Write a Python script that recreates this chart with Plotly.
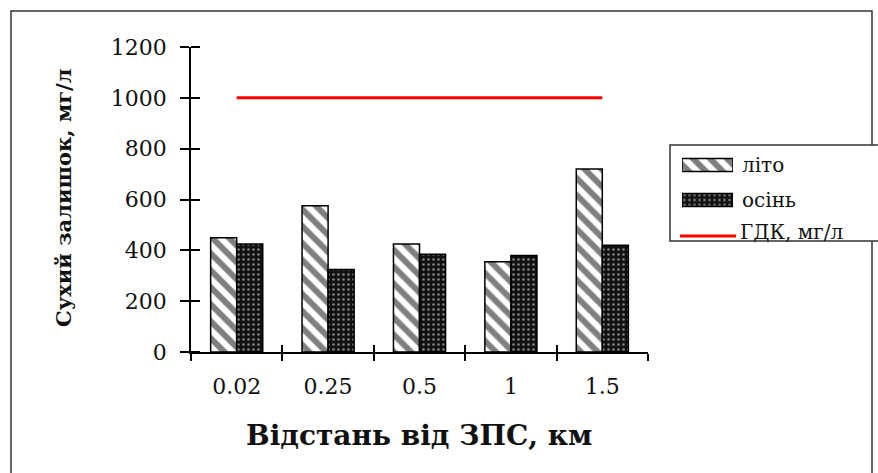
import plotly.graph_objects as go

# Distance from the source (km) and dry residue (mg/l)
distances = ["0.02", "0.25", "0.5", "1", "1.5"]
summer = [450, 575, 425, 355, 720]
autumn = [425, 325, 385, 380, 420]
mpc_value = 1000
y_ticks = [0, 200, 400, 600, 800, 1000, 1200]

FONT = "DejaVu Serif"
INK = "#111111"

# Plot area and paper geometry (pixels)
W, H = 878, 473
ML, MR, MT, MB = 191, 0, 47, 121
PW, PH = W - ML - MR, H - MT - MB


def px(x):
    return (x - ML) / PW


def py(y):
    return (H - MB - y) / PH


main_right = px(648)

summer_marker = dict(color="white", line=dict(color="black", width=1.5),
                     pattern=dict(shape="\\", fgcolor="black", bgcolor="white",
                                  size=12, solidity=0.5))
autumn_marker = dict(color="black", line=dict(color="black", width=1.5),
                     pattern=dict(shape=".", fgcolor="#f0f0f0", bgcolor="#111111",
                                  size=5, solidity=0.22))

fig = go.Figure()

fig.add_trace(go.Bar(x=distances, y=summer, name="літо",
                     marker=summer_marker, showlegend=False))
fig.add_trace(go.Bar(x=distances, y=autumn, name="осінь",
                     marker=autumn_marker, showlegend=False))
# limit line lives on overlay axes that also carry the inner tick marks
fig.add_trace(go.Scatter(
    x=distances, y=[mpc_value] * len(distances), name="ГДК, мг/л",
    mode="lines", line=dict(color="#ff0000", width=3),
    xaxis="x2", yaxis="y2", showlegend=False,
))

# Legend swatches drawn as small patterned bars in an inset axis
legend_cats = ["осінь", "літо"]
fig.add_trace(go.Bar(y=["літо"], x=[1], orientation="h", width=0.37,
                     marker=summer_marker, xaxis="x3", yaxis="y3",
                     showlegend=False, hoverinfo="skip"))
fig.add_trace(go.Bar(y=["осінь"], x=[1], orientation="h", width=0.37,
                     marker=autumn_marker, xaxis="x3", yaxis="y3",
                     showlegend=False, hoverinfo="skip"))

tick_font = dict(family=FONT, size=22, color=INK)

fig.update_layout(
    width=W, height=H,
    margin=dict(l=ML, r=MR, t=MT, b=MB),
    paper_bgcolor="white", plot_bgcolor="white",
    barmode="group", bargap=0.43, bargroupgap=0,
    xaxis=dict(
        domain=[0, main_right], type="category", categoryorder="array",
        categoryarray=distances, range=[-0.5, 4.5],
        tickson="boundaries", ticks="outside", ticklen=7, tickwidth=1.5,
        tickcolor="black", showline=True, linecolor="black", linewidth=1.5,
        showgrid=False, zeroline=False, tickfont=tick_font,
        ticklabelstandoff=14,
    ),
    xaxis2=dict(
        overlaying="x", anchor="y2", type="category",
        categoryorder="array", categoryarray=distances, range=[-0.5, 4.5],
        tickson="boundaries", ticks="inside", ticklen=7, tickwidth=1.5,
        tickcolor="black", showticklabels=False,
    ),
    yaxis=dict(
        range=[0, 1200], tickvals=y_ticks, ticks="outside", ticklen=9,
        tickwidth=1.5, tickcolor="black", showline=True, linecolor="black",
        linewidth=1.5, showgrid=False, zeroline=False, tickfont=tick_font,
        ticklabelstandoff=9,
        minor=dict(ticks="inside", tickvals=[0.01, 1199.99], ticklen=9,
                   tickwidth=1.5, tickcolor="black"),
    ),
    yaxis2=dict(
        range=[0, 1200], overlaying="y", anchor="x2", side="left",
        tickvals=y_ticks, ticks="inside", ticklen=9, tickwidth=1.5,
        tickcolor="black", showticklabels=False,
    ),
    xaxis3=dict(domain=[px(682), px(733)], range=[0, 1], visible=False,
                anchor="y3", fixedrange=True),
    yaxis3=dict(domain=[py(217.5), py(147.5)], type="category",
                categoryorder="array", categoryarray=legend_cats,
                range=[-0.5, 1.5], visible=False, anchor="x3",
                fixedrange=True),
    shapes=[
        # outer frame
        dict(type="rect", xref="paper", yref="paper",
             x0=px(11), x1=px(872), y0=py(490), y1=py(11),
             line=dict(color="#333333", width=1.5), layer="below"),
        # legend box
        dict(type="rect", xref="paper", yref="paper",
             x0=px(670), x1=px(885), y0=py(241), y1=py(145),
             line=dict(color="#333333", width=1.5), fillcolor="white",
             layer="below"),
        # legend line sample
        dict(type="line", xref="paper", yref="paper",
             x0=px(680), x1=px(736), y0=py(236), y1=py(236),
             line=dict(color="#ff0000", width=3)),
    ],
    annotations=[
        dict(text="<b>Відстань від ЗПС, км</b>", xref="paper", yref="paper",
             x=px(419), y=py(435), xanchor="center", yanchor="middle",
             showarrow=False, font=dict(family=FONT, size=28, color=INK)),
        dict(text="<b>Сухий залишок, мг/л</b>", xref="paper", yref="paper",
             x=px(64), y=py(198), xanchor="center", yanchor="middle",
             showarrow=False, textangle=-90,
             font=dict(family=FONT, size=21, color=INK)),
        dict(text="літо", xref="paper", yref="paper", x=px(740), y=py(165),
             xanchor="left", yanchor="middle", showarrow=False,
             font=dict(family=FONT, size=20, color=INK)),
        dict(text="осінь", xref="paper", yref="paper", x=px(740), y=py(200),
             xanchor="left", yanchor="middle", showarrow=False,
             font=dict(family=FONT, size=20, color=INK)),
        dict(text="ГДК, мг/л", xref="paper", yref="paper", x=px(738), y=py(232),
             xanchor="left", yanchor="middle", showarrow=False,
             font=dict(family=FONT, size=20, color=INK)),
    ],
)

fig.write_html("out.html")
